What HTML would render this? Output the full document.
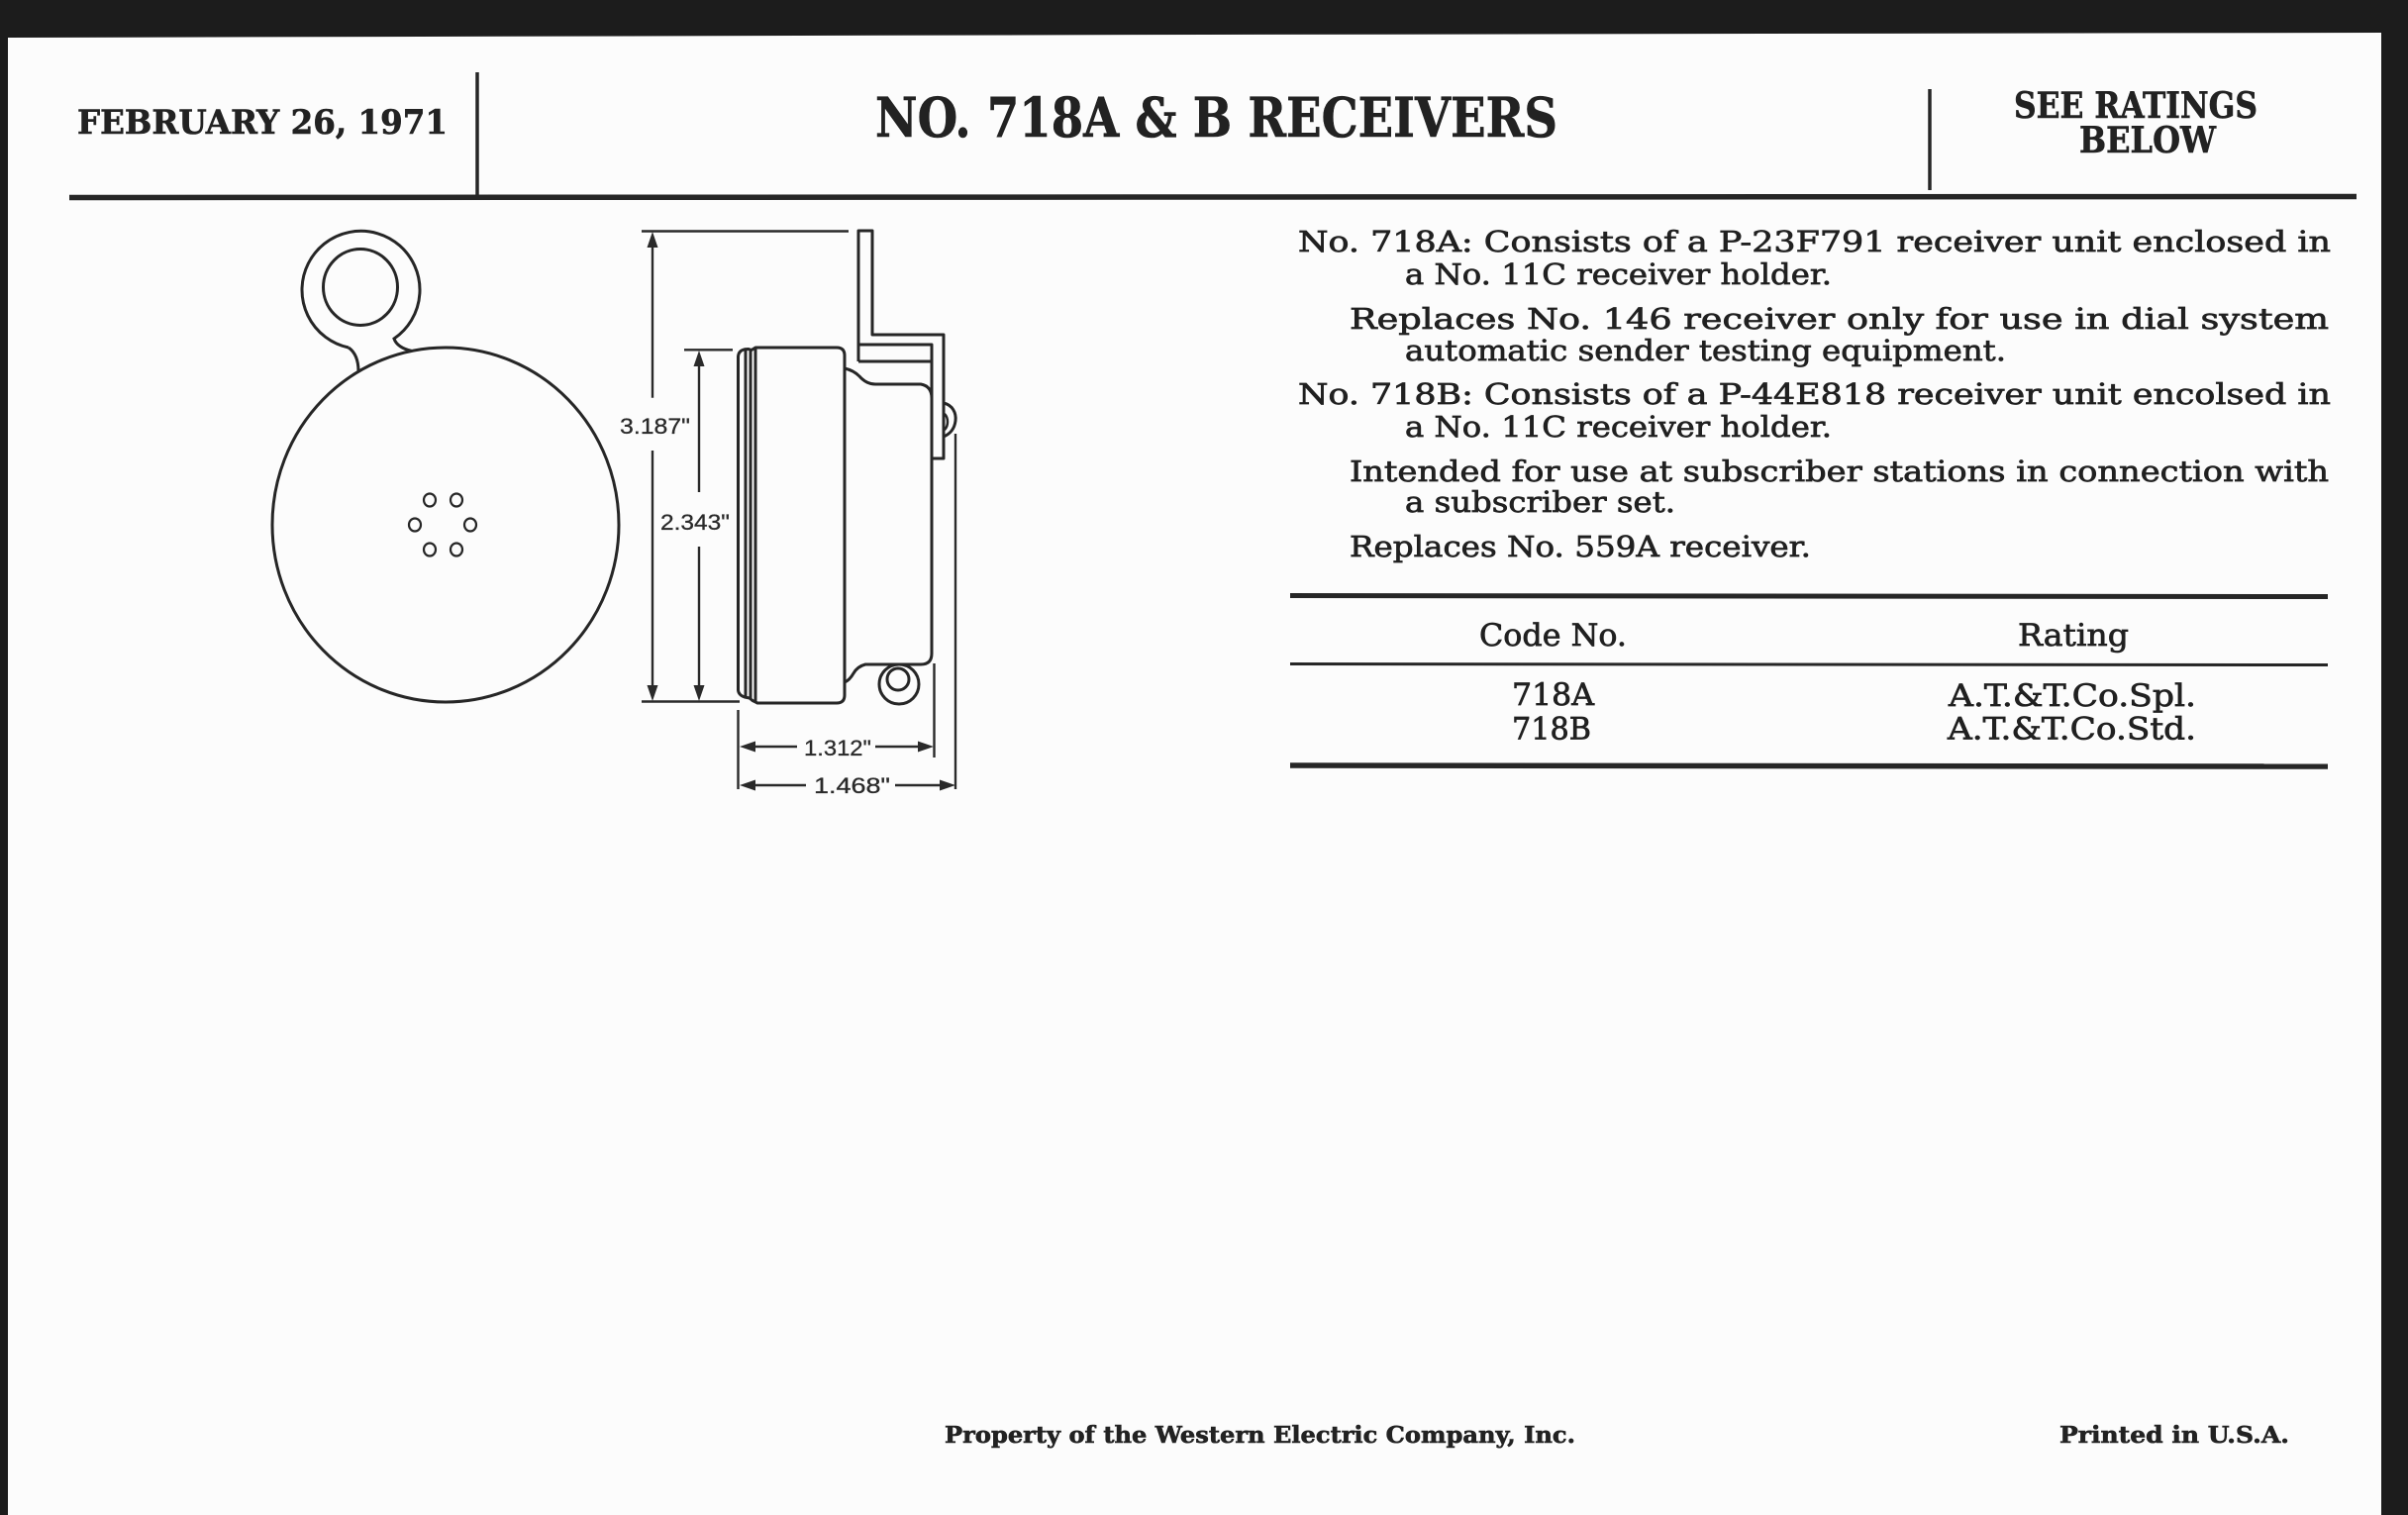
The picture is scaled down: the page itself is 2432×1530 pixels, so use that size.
<!DOCTYPE html>
<html>
<head>
<meta charset="utf-8">
<style>
  html,body{margin:0;padding:0;background:#fcfcfc;}
  body{width:2432px;height:1530px;overflow:hidden;}
  svg{display:block;}
  .body{font-family:"DejaVu Serif","Liberation Serif",serif;font-size:29px;fill:#202020;stroke:#202020;stroke-width:0.7px;}
  .tbl{font-family:"DejaVu Serif","Liberation Serif",serif;font-size:31px;fill:#202020;stroke:#202020;stroke-width:0.7px;}
  .hd{font-family:"DejaVu Serif","Liberation Serif",serif;font-weight:bold;fill:#222;stroke:#222;stroke-width:0.6px;}
  .dim{font-family:"Liberation Sans","DejaVu Sans",sans-serif;font-size:22px;fill:#2a2a2a;stroke:#2a2a2a;stroke-width:0.3px;}
</style>
</head>
<body>
<svg width="2432" height="1530" viewBox="0 0 2432 1530" xmlns="http://www.w3.org/2000/svg">
  <rect x="0" y="0" width="2432" height="1530" fill="#fcfcfc"/>
  <!-- scan border -->
  <polygon fill="#1c1c1c" points="0,0 2432,0 2432,1530 2405,1530 2405,33 1216,35 8,38 8,1530 0,1530"/>

  <!-- header -->
  <text class="hd" x="78" y="135" font-size="34" textLength="374" lengthAdjust="spacingAndGlyphs">FEBRUARY 26, 1971</text>
  <line x1="482" y1="73" x2="482" y2="197" stroke="#262626" stroke-width="3.5"/>
  <text class="hd" x="884" y="138" font-size="55" textLength="689" lengthAdjust="spacingAndGlyphs">NO. 718A &amp; B RECEIVERS</text>
  <line x1="1949" y1="90" x2="1949" y2="192" stroke="#262626" stroke-width="3.5"/>
  <text class="hd" x="2034" y="119" font-size="36" textLength="246" lengthAdjust="spacingAndGlyphs">SEE RATINGS</text>
  <text class="hd" x="2100" y="154" font-size="36" textLength="138" lengthAdjust="spacingAndGlyphs">BELOW</text>
  <line x1="70" y1="199.5" x2="2380" y2="198.5" stroke="#262626" stroke-width="5.5"/>

  <!-- front view -->
  <g fill="none" stroke="#262626" stroke-width="3">
    <ellipse cx="450" cy="530" rx="175" ry="179"/>
    <path d="M352,351 A59.5,59.5 0 1 1 398,342 Q401,351 416,354.5"/>
    <path d="M352,351 Q362,358 362,375"/>
    <ellipse cx="364" cy="290" rx="37.5" ry="38.5"/>
    <g stroke-width="2.2">
      <ellipse cx="434" cy="505" rx="6" ry="6.5"/>
      <ellipse cx="461" cy="505" rx="6" ry="6.5"/>
      <ellipse cx="419" cy="530" rx="6" ry="6.5"/>
      <ellipse cx="475" cy="530" rx="6" ry="6.5"/>
      <ellipse cx="434" cy="555" rx="6" ry="6.5"/>
      <ellipse cx="461" cy="555" rx="6" ry="6.5"/>
    </g>
  </g>

  <!-- side view -->
  <g fill="none" stroke="#262626" stroke-width="3" stroke-linejoin="round">
    <path d="M853,359 Q853,351 845,351 L763,351 L759,353.5 L756,352.5 L752,352.8 Q746,354 745.5,360 L745.5,697 Q746,702 752,704 L757,705 L760,707.5 L765,710 L845,710 Q853,710 853,702 Z"/>
    <line x1="753" y1="353" x2="753" y2="704"/>
    <line x1="758" y1="353" x2="758" y2="705"/>
    <line x1="763" y1="351" x2="763" y2="709"/>
    <path d="M853,372 Q862,374 868,380 Q875,388 884,388 L930,388 Q941,390 941,402 L941,660 Q941,671 930,671 L874,671 Q866,673 862,680 Q858,687 853,689"/>
    <path d="M867,365 L867,233 L881,233 L881,338 L953,338 L953,463 L941,463 L941,348 L867,348"/>
    <line x1="867" y1="365" x2="941" y2="365"/>
    <path d="M953,407 C962,409 966,417 965,425 C964,433 960,438 953,441"/>
    <path d="M954,418 C958,422 958,430 954,434" stroke-width="2.5"/>
    <circle cx="908" cy="691" r="20"/>
    <circle cx="907" cy="686" r="11"/>
  </g>

  <!-- dimensions -->
  <g stroke="#2a2a2a" stroke-width="2.4" fill="none">
    <line x1="648" y1="233.5" x2="857" y2="233.5"/>
    <line x1="691" y1="353.3" x2="740" y2="353.3"/>
    <line x1="648" y1="708.5" x2="747" y2="708.5"/>
    <line x1="745.5" y1="717" x2="745.5" y2="797"/>
    <line x1="943.5" y1="670" x2="943.5" y2="765"/>
    <line x1="965" y1="438" x2="965" y2="797"/>
    <line x1="659" y1="240" x2="659" y2="401.7"/>
    <line x1="659" y1="455" x2="659" y2="702"/>
    <line x1="706" y1="360" x2="706" y2="497"/>
    <line x1="706" y1="552" x2="706" y2="702"/>
    <line x1="752" y1="754" x2="805" y2="754"/>
    <line x1="884" y1="754" x2="938" y2="754"/>
    <line x1="752" y1="793" x2="814" y2="793"/>
    <line x1="904" y1="793" x2="960" y2="793"/>
  </g>
  <g fill="#2a2a2a">
    <polygon points="659,234 653.5,250 664.5,250"/>
    <polygon points="659,708 653.5,692 664.5,692"/>
    <polygon points="706,354 700.5,370 711.5,370"/>
    <polygon points="706,708 700.5,692 711.5,692"/>
    <polygon points="747,754 763,748.5 763,759.5"/>
    <polygon points="943,754 927,748.5 927,759.5"/>
    <polygon points="747,793 763,787.5 763,798.5"/>
    <polygon points="965,793 949,787.5 949,798.5"/>
  </g>
  <text class="dim" x="626" y="438" textLength="71" lengthAdjust="spacingAndGlyphs">3.187&quot;</text>
  <text class="dim" x="667" y="535" textLength="70" lengthAdjust="spacingAndGlyphs">2.343&quot;</text>
  <text class="dim" x="812" y="763" textLength="68" lengthAdjust="spacingAndGlyphs">1.312&quot;</text>
  <text class="dim" x="822" y="801" textLength="77" lengthAdjust="spacingAndGlyphs">1.468&quot;</text>

  <!-- body text -->
  <text class="body" x="1311" y="254" textLength="1043" lengthAdjust="spacingAndGlyphs">No. 718A: Consists of a P-23F791 receiver unit enclosed in</text>
  <text class="body" x="1419" y="287" textLength="431" lengthAdjust="spacingAndGlyphs">a No. 11C receiver holder.</text>
  <text class="body" x="1363" y="332" textLength="989" lengthAdjust="spacingAndGlyphs">Replaces No. 146 receiver only for use in dial system</text>
  <text class="body" x="1419" y="364" textLength="607" lengthAdjust="spacingAndGlyphs">automatic sender testing equipment.</text>
  <text class="body" x="1311" y="408" textLength="1043" lengthAdjust="spacingAndGlyphs">No. 718B: Consists of a P-44E818 receiver unit encolsed in</text>
  <text class="body" x="1419" y="441" textLength="431" lengthAdjust="spacingAndGlyphs">a No. 11C receiver holder.</text>
  <text class="body" x="1363" y="486" textLength="989" lengthAdjust="spacingAndGlyphs">Intended for use at subscriber stations in connection with</text>
  <text class="body" x="1419" y="517" textLength="273" lengthAdjust="spacingAndGlyphs">a subscriber set.</text>
  <text class="body" x="1363" y="562" textLength="466" lengthAdjust="spacingAndGlyphs">Replaces No. 559A receiver.</text>

  <!-- table -->
  <line x1="1303" y1="601.5" x2="2351" y2="602.5" stroke="#262626" stroke-width="5"/>
  <text class="tbl" x="1494" y="652" textLength="149" lengthAdjust="spacingAndGlyphs">Code No.</text>
  <text class="tbl" x="2038" y="652" textLength="112" lengthAdjust="spacingAndGlyphs">Rating</text>
  <line x1="1303" y1="670.5" x2="2351" y2="671.5" stroke="#262626" stroke-width="3"/>
  <text class="tbl" x="1527" y="712" textLength="83" lengthAdjust="spacingAndGlyphs">718A</text>
  <text class="tbl" x="1527" y="746.5" textLength="80" lengthAdjust="spacingAndGlyphs">718B</text>
  <text class="tbl" x="1968" y="713" textLength="250" lengthAdjust="spacingAndGlyphs">A.T.&amp;T.Co.Spl.</text>
  <text class="tbl" x="1967" y="746.5" textLength="251" lengthAdjust="spacingAndGlyphs">A.T.&amp;T.Co.Std.</text>
  <line x1="1303" y1="773" x2="2351" y2="774" stroke="#262626" stroke-width="5.5"/>

  <!-- footer -->
  <text class="hd" x="954" y="1457" font-size="23" textLength="637" lengthAdjust="spacingAndGlyphs">Property of the Western Electric Company, Inc.</text>
  <text class="hd" x="2080" y="1457" font-size="23" textLength="232" lengthAdjust="spacingAndGlyphs">Printed in U.S.A.</text>
</svg>
</body>
</html>
